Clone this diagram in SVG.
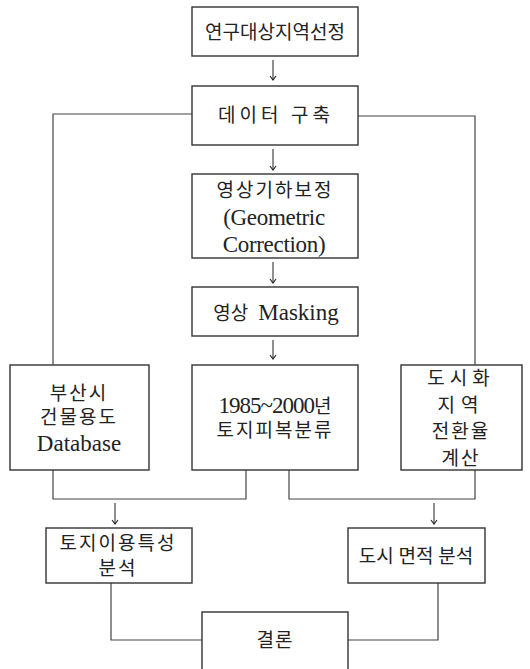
<svg xmlns="http://www.w3.org/2000/svg" width="530" height="669" viewBox="0 0 530 669">
<defs>
<style>
.box{fill:#fff;stroke:#333;stroke-width:1.4}
.ln{fill:none;stroke:#444;stroke-width:1.2}
.ar{fill:none;stroke:#333;stroke-width:1.1}
text{font-family:"Liberation Serif","Noto Sans CJK KR",serif;font-size:19px;fill:#222;text-anchor:middle}
.lat{font-size:23px}
</style>
<marker id="ah" markerWidth="8" markerHeight="8" refX="7" refY="4" orient="auto" markerUnits="userSpaceOnUse" viewBox="0 0 8 8">
<path d="M3,1 L7,4 L3,7" fill="none" stroke="#222" stroke-width="1.1"/>
</marker>
</defs>
<rect width="530" height="669" fill="#fff"/>
<g id="connectors">
<line class="ar" x1="273" y1="60" x2="273" y2="80" marker-end="url(#ah)"/>
<line class="ar" x1="273" y1="149" x2="273" y2="170" marker-end="url(#ah)"/>
<line class="ar" x1="273" y1="262" x2="273" y2="283" marker-end="url(#ah)"/>
<line class="ar" x1="273" y1="340" x2="273" y2="359" marker-end="url(#ah)"/>
<polyline class="ln" points="192,114 53,114 53,365"/>
<polyline class="ln" points="358,116 475,116 475,365"/>
<polyline class="ln" points="53,470 53,499 246,499 246,470"/>
<polyline class="ln" points="289,470 289,499 475,499 475,470"/>
<line class="ar" x1="115" y1="503" x2="115" y2="524" marker-end="url(#ah)"/>
<line class="ar" x1="434" y1="503" x2="434" y2="524" marker-end="url(#ah)"/>
<polyline class="ln" points="111,583 111,640 202,640"/>
<polyline class="ln" points="438,583 438,640 348,640"/>
</g>
<g id="n1"><rect class="box" x="192" y="7" width="166" height="49"/><text x="275" y="39">연구대상지역선정</text></g>
<g id="n2"><rect class="box" x="192" y="86" width="166" height="59"/><text x="276" y="122" letter-spacing="4">데이터 구축</text></g>
<g id="n3"><rect class="box" x="192" y="174" width="166" height="84"/>
<text x="275" y="197" letter-spacing="2">영상기하보정</text>
<text class="lat" x="274" y="225" letter-spacing="-0.3">(Geometric</text>
<text class="lat" x="274" y="252" letter-spacing="-0.3">Correction)</text></g>
<g id="n4"><rect class="box" x="192" y="287" width="166" height="49"/><text x="276" y="320"><tspan>영상</tspan><tspan class="lat" dx="10">Masking</tspan></text></g>
<g id="n5"><rect class="box" x="192" y="365" width="166" height="105"/>
<text x="275" y="413"><tspan class="lat" letter-spacing="-1">1985~2000</tspan><tspan>년</tspan></text>
<text x="275" y="437" letter-spacing="2">토지피복분류</text></g>
<g id="n6"><rect class="box" x="10" y="365" width="139" height="105"/>
<text x="79" y="400" letter-spacing="2">부산시</text>
<text x="79" y="424" letter-spacing="2">건물용도</text>
<text class="lat" x="79" y="451">Database</text></g>
<g id="n7"><rect class="box" x="401" y="365" width="121" height="105"/>
<text x="461" y="385" letter-spacing="5">도시화</text>
<text x="461" y="412" letter-spacing="6">지역</text>
<text x="461" y="438" letter-spacing="2">전환율</text>
<text x="461" y="465" letter-spacing="2">계산</text></g>
<g id="n8"><rect class="box" x="46" y="528" width="146" height="55"/>
<text x="118" y="550" letter-spacing="2">토지이용특성</text>
<text x="118" y="575" letter-spacing="2">분석</text></g>
<g id="n9"><rect class="box" x="348" y="528" width="137" height="55"/>
<text x="416" y="563">도시 면적 분석</text></g>
<g id="n10"><rect class="box" x="202" y="612" width="146" height="70"/>
<text x="275" y="647" letter-spacing="1">결론</text></g>
</svg>
